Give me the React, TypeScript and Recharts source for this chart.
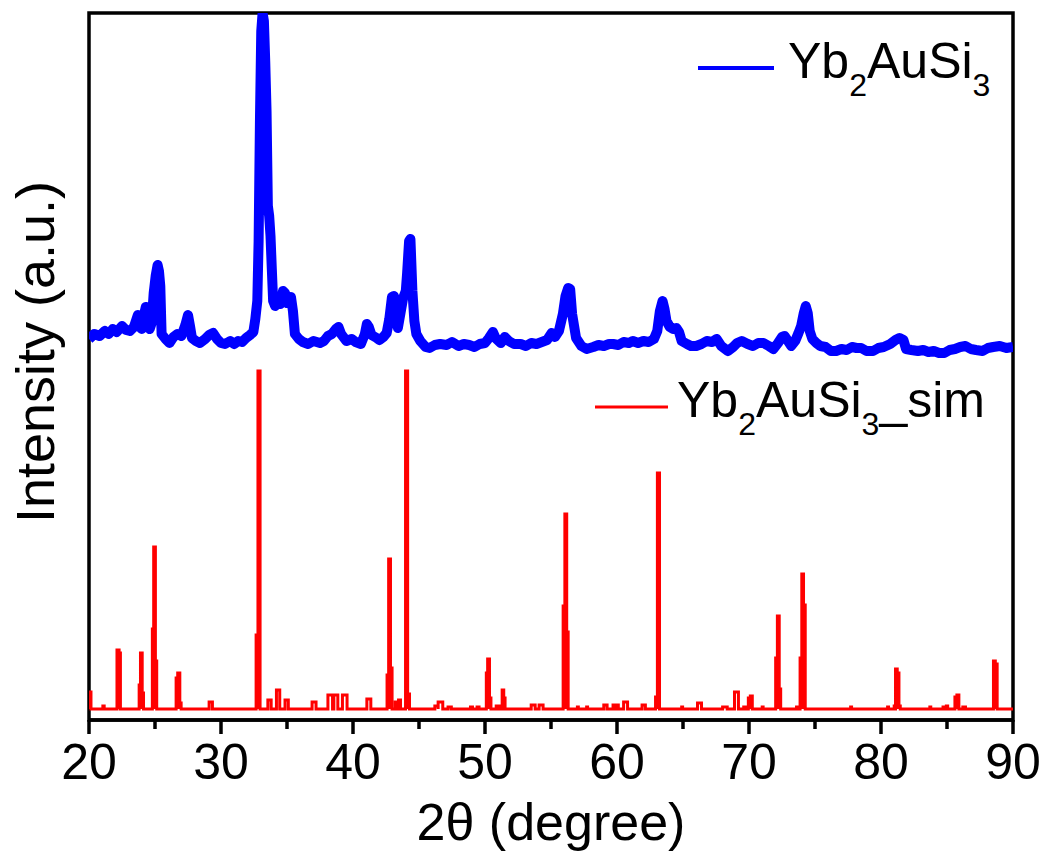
import { LineChart, Line, XAxis, YAxis, ReferenceArea } from 'recharts'

const font = 'Arial, "Liberation Sans", sans-serif'

const xTicks = [20, 25, 30, 35, 40, 45, 50, 55, 60, 65, 70, 75, 80, 85, 90]

// measured pattern, [2theta, intensity] (offset so it sits above the simulated one)
const measured: [number, number][] = [
  [20.0, 381], [20.4, 386], [20.8, 384], [21.2, 389], [21.5, 386], [21.8, 391], [22.1, 388],
  [22.5, 394], [22.8, 390], [23.1, 389], [23.4, 393], [23.6, 401], [23.7, 405], [23.85, 393],
  [24.0, 391], [24.2, 407], [24.3, 413], [24.45, 401], [24.6, 391], [24.75, 397], [24.9, 427],
  [25.05, 444], [25.2, 455], [25.3, 449], [25.4, 434], [25.5, 386], [25.8, 381], [26.1, 377],
  [26.4, 383], [26.7, 386], [27.0, 384], [27.3, 395], [27.5, 405], [27.65, 394], [27.8, 382],
  [28.1, 379], [28.4, 377], [28.8, 381], [29.1, 385], [29.4, 387], [29.7, 381], [30.0, 377],
  [30.3, 376], [30.7, 379], [31.0, 376], [31.3, 379], [31.6, 378], [31.9, 382], [32.2, 385],
  [32.45, 388], [32.6, 401], [32.75, 419], [32.85, 479], [32.95, 599], [33.05, 689], [33.15, 707],
  [33.25, 699], [33.35, 659], [33.45, 609], [33.55, 514], [33.65, 504], [33.75, 484], [33.85, 451],
  [33.95, 419], [34.1, 414], [34.3, 419], [34.5, 416], [34.7, 429], [34.85, 427], [35.0, 417],
  [35.15, 419], [35.3, 423], [35.45, 409], [35.6, 386], [35.9, 381], [36.2, 378], [36.6, 376],
  [37.0, 379], [37.5, 377], [37.8, 379], [38.1, 384], [38.4, 386], [38.7, 391], [38.9, 393],
  [39.1, 386], [39.5, 379], [39.9, 381], [40.2, 378], [40.6, 376], [40.9, 386], [41.05, 396],
  [41.2, 393], [41.4, 385], [41.8, 382], [42.0, 380], [42.3, 383], [42.55, 387], [42.75, 401],
  [42.95, 423], [43.1, 424], [43.25, 407], [43.4, 392], [43.6, 407], [43.8, 422], [44.0, 429],
  [44.1, 447], [44.25, 479], [44.35, 481], [44.5, 429], [44.65, 399], [44.8, 386], [45.1, 379],
  [45.5, 373], [45.8, 372], [46.2, 375], [46.6, 376], [47.1, 375], [47.5, 378], [48.0, 374],
  [48.4, 376], [48.8, 375], [49.2, 373], [49.6, 376], [50.0, 377], [50.3, 382], [50.6, 388],
  [50.8, 382], [51.2, 377], [51.5, 383], [51.8, 379], [52.2, 376], [52.7, 376], [53.1, 374],
  [53.5, 377], [53.9, 376], [54.3, 378], [54.7, 380], [55.05, 387], [55.3, 383], [55.6, 389],
  [55.9, 406], [56.1, 424], [56.3, 432], [56.45, 431], [56.6, 406], [56.9, 382], [57.3, 374],
  [57.7, 371], [58.2, 373], [58.6, 375], [59.0, 374], [59.4, 376], [59.7, 376], [60.1, 375],
  [60.5, 378], [60.9, 377], [61.2, 379], [61.6, 377], [62.0, 379], [62.4, 378], [62.8, 381],
  [63.05, 389], [63.25, 409], [63.45, 419], [63.6, 411], [63.75, 399], [64.0, 393], [64.25, 391],
  [64.5, 392], [64.7, 388], [64.9, 379], [65.3, 376], [65.6, 374], [66.0, 374], [66.4, 376],
  [66.8, 379], [67.2, 378], [67.55, 381], [67.9, 374], [68.4, 369], [68.8, 373], [69.1, 377],
  [69.45, 379], [69.9, 376], [70.3, 374], [70.7, 377], [71.1, 377], [71.5, 374], [71.85, 371],
  [72.2, 377], [72.5, 383], [72.7, 384], [72.95, 379], [73.2, 374], [73.5, 379], [73.75, 387],
  [73.95, 394], [74.15, 407], [74.3, 414], [74.45, 407], [74.6, 389], [74.8, 381], [75.1, 377],
  [75.4, 374], [75.8, 373], [76.2, 369], [76.6, 369], [77.0, 371], [77.4, 370], [77.8, 373],
  [78.15, 372], [78.5, 372], [78.9, 369], [79.4, 369], [79.8, 372], [80.2, 373], [80.7, 376],
  [81.1, 380], [81.4, 382], [81.7, 380], [81.9, 371], [82.3, 370], [82.8, 369], [83.2, 370],
  [83.6, 368], [84.0, 369], [84.4, 367], [84.8, 367], [85.2, 370], [85.6, 371], [86.0, 373],
  [86.4, 374], [86.8, 371], [87.2, 370], [87.7, 369], [88.1, 372], [88.5, 373], [89.0, 374],
  [89.5, 372], [90.0, 373],
]

// simulated pattern: [from, to, intensity] for each reflection
const simBaseline = 11
const simPeaks: [number, number, number][] = [
  [20.0, 20.15, 28], [21.05, 21.15, 14],
  [22.12, 22.28, 70], [22.28, 22.38, 67],
  [23.8, 23.9, 35], [23.9, 24.03, 67], [24.03, 24.13, 27],
  [24.8, 24.9, 91], [24.9, 25.03, 173], [25.03, 25.13, 59],
  [26.6, 26.72, 42], [26.72, 26.88, 47], [26.88, 26.98, 17],
  [29.1, 29.35, 18],
  [32.66, 32.8, 85], [32.8, 32.96, 349],
  [33.55, 33.8, 20], [34.2, 34.45, 30], [34.85, 35.1, 20], [36.9, 37.2, 18],
  [38.1, 38.45, 25], [38.55, 38.85, 25], [39.2, 39.55, 25], [41.05, 41.35, 21],
  [42.58, 42.7, 45], [42.7, 42.84, 161], [42.84, 42.96, 52],
  [43.2, 43.35, 18], [43.45, 43.6, 20],
  [43.98, 44.14, 349], [44.14, 44.28, 26],
  [46.2, 46.45, 14], [46.45, 46.8, 18], [47.2, 47.45, 13], [48.9, 49.05, 13], [49.4, 49.55, 13],
  [50.1, 50.2, 47], [50.2, 50.34, 61], [50.34, 50.45, 22],
  [50.85, 51.0, 14], [51.1, 51.2, 14], [51.3, 51.42, 30], [51.42, 51.52, 22],
  [53.5, 53.8, 15], [54.1, 54.4, 15],
  [55.92, 56.05, 114], [56.05, 56.19, 206], [56.19, 56.3, 88],
  [57.0, 57.07, 13], [57.7, 57.77, 13], [59.0, 59.25, 15], [59.7, 59.85, 15], [59.95, 60.1, 15],
  [60.5, 60.8, 18], [61.9, 62.15, 15],
  [62.92, 63.06, 23], [63.06, 63.22, 247],
  [64.9, 64.97, 13], [66.1, 66.4, 17], [68.0, 68.35, 13], [68.9, 69.2, 28], [69.6, 69.8, 13],
  [69.95, 70.1, 22], [70.1, 70.25, 24], [71.0, 71.07, 13],
  [72.02, 72.15, 62], [72.15, 72.29, 104], [72.29, 72.4, 31],
  [73.6, 73.67, 13],
  [73.87, 74.0, 62], [74.0, 74.13, 146], [74.13, 74.26, 115],
  [77.7, 77.77, 13], [80.5, 80.57, 13], [81.0, 81.07, 14],
  [81.1, 81.23, 51], [81.23, 81.36, 47], [81.36, 81.46, 14],
  [83.7, 83.77, 13], [84.7, 84.8, 13], [84.95, 85.05, 14],
  [85.6, 85.75, 23], [85.75, 85.9, 25], [86.2, 86.4, 13],
  [88.52, 88.66, 59], [88.66, 88.8, 56],
]

const measuredData = measured.map(([x, y]) => ({ x, y }))

const simData: { x: number; y: number }[] = []
simPeaks.forEach(([a, b, h]) => {
  simData.push({ x: a, y: simBaseline }, { x: a, y: h }, { x: b, y: h }, { x: b, y: simBaseline })
})
if (simData[simData.length - 1].x < 90) simData.push({ x: 90, y: simBaseline })

function XTick(props: any) {
  const { x, y, payload } = props
  const major = payload.value % 10 === 0
  return (
    <g>
      <line x1={x} x2={x} y1={y} y2={y + (major ? 14 : 9)} stroke="#000" strokeWidth={3.5} />
      {major && (
        <text x={x} y={y + 59} textAnchor="middle" fontSize={50} fontFamily={font} fill="#000">
          {payload.value}
        </text>
      )}
    </g>
  )
}

export default function App() {
  return (
    <div style={{ position: 'absolute', left: 0, top: 0, background: '#fff' }}>
      <LineChart width={1046} height={855} margin={{ top: 13, right: 33, bottom: 0, left: 89 }}>
        <XAxis
          dataKey="x"
          type="number"
          domain={[20, 90]}
          ticks={xTicks}
          interval={0}
          height={135}
          tickSize={0}
          tickMargin={0}
          tick={<XTick />}
          axisLine={{ stroke: '#000', strokeWidth: 3.5 }}
          tickLine={false}
          allowDataOverflow
        />
        <YAxis type="number" domain={[0, 707]} width={0} hide allowDataOverflow />
        <ReferenceArea x1={20} x2={90} y1={0} y2={707} fill="none" stroke="#000" strokeWidth={3.5} />
        <Line
          data={simData}
          dataKey="y"
          type="linear"
          stroke="#ff0000"
          strokeWidth={3}
          dot={false}
          activeDot={false}
          isAnimationActive={false}
        />
        <Line
          data={measuredData}
          dataKey="y"
          type="linear"
          stroke="#0000ff"
          strokeWidth={10}
          strokeLinejoin="round"
          dot={false}
          activeDot={false}
          isAnimationActive={false}
        />
        <g fontFamily={font} fill="#000">
          <text x={54} y={352} fontSize={54} textAnchor="middle" transform="rotate(-90, 54, 352)">
            Intensity (a.u.)
          </text>
          <text x={551} y={840} fontSize={52} textAnchor="middle">
            2θ (degree)
          </text>
          <line x1={698} x2={774} y1={68} y2={68} stroke="#0000ff" strokeWidth={4} />
          <text x={788} y={78} fontSize={50}>
            Yb<tspan fontSize={32} dy={18}>2</tspan>
            <tspan dy={-18}>AuSi</tspan>
            <tspan fontSize={32} dy={18}>3</tspan>
          </text>
          <line x1={595} x2={668} y1={407} y2={407} stroke="#ff0000" strokeWidth={3} />
          <text x={677} y={417} fontSize={50}>
            Yb<tspan fontSize={32} dy={18}>2</tspan>
            <tspan dy={-18}>AuSi</tspan>
            <tspan fontSize={32} dy={18}>3</tspan>
            <tspan dy={-18}>_sim</tspan>
          </text>
        </g>
      </LineChart>
    </div>
  )
}
